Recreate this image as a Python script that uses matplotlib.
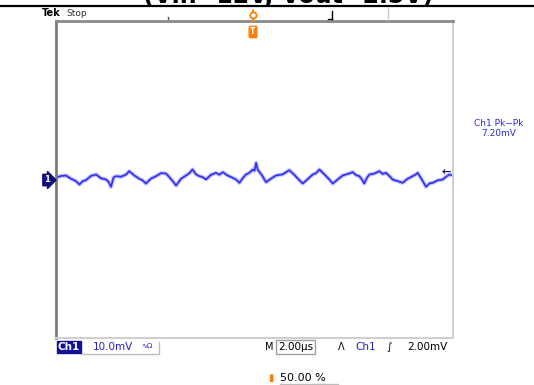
import numpy as np
import matplotlib
matplotlib.use('Agg')
from matplotlib import pyplot as plt
from matplotlib.lines import Line2D

# Ch1 ripple trace: time (us) and voltage (mV)
t_us = [0.00, 0.25, 0.50, 0.75, 1.01, 1.18, 1.35, 1.51, 1.76, 2.02, 2.27, 2.52,
        2.65, 2.77, 2.90, 3.02, 3.28, 3.53, 3.69, 3.95, 4.20, 4.36, 4.53, 4.78,
        5.04, 5.29, 5.54, 5.71, 5.88, 6.05, 6.30, 6.55, 6.72, 6.88, 7.05, 7.22,
        7.39, 7.56, 7.81, 8.06, 8.23, 8.40, 8.65, 8.90, 9.07, 9.24, 9.40, 9.57,
        9.74, 9.91, 10.00, 10.08, 10.16, 10.37, 10.58, 10.83, 11.08, 11.42, 11.75,
        12.00, 12.26, 12.43, 12.68, 12.93, 13.10, 13.27, 13.52, 13.77, 13.94,
        14.19, 14.44, 14.70, 14.95, 15.12, 15.28, 15.40, 15.53, 15.66, 15.79,
        16.04, 16.29, 16.46, 16.62, 16.79, 16.96, 17.21, 17.46, 17.72, 17.97,
        18.10, 18.22, 18.43, 18.64, 18.81, 18.98, 19.23, 19.48, 19.65, 19.82, 20.00]
v_mv = [0.42, 0.90, 1.01, 0.20, -0.42, -1.26, -0.40, -0.17, 0.90, 1.26, 0.30, 0.00,
        -0.60, -1.85, 0.50, 0.84, 0.70, 1.26, 2.10, 1.00, 0.17, -0.20, -1.01, 0.20,
        0.84, 1.60, 1.52, 0.60, -0.42, -1.52, 0.20, 1.01, 1.60, 2.53, 1.30, 0.84,
        0.60, 0.00, 1.20, 1.68, 1.20, 1.85, 1.00, 0.42, 0.00, -0.84, 0.30, 1.26,
        1.70, 2.50, 2.20, 4.20, 2.50, 1.10, -0.67, 0.20, 1.01, 1.30, 2.36,
        1.20, -0.17, -1.01, 0.10, 1.26, 1.60, 2.53, 1.30, 0.00, -1.01,
        0.00, 1.01, 1.40, 1.85, 1.10, 0.84, 0.10, -1.01, 0.40, 1.26,
        1.50, 2.10, 1.40, 1.68, 0.90, 0.00, -0.40, -0.84, 0.20, 0.84,
        1.20, 1.68, 0.00, -1.85, -1.00, -0.84, -0.20, 0.00, 0.70, 1.26, 1.00]

title = '(Vin=12V, Vout=2.5V)'
meas_label = 'Ch1 Pk\u2212Pk'
meas_value = '7.20mV'
ch_scale = '10.0mV'
time_scale = '2.00\u03bcs'
trig_level = '2.00mV'
trig_pos = '50.00 %'

W, H = 534, 385
def px(x, y):
    return x / W, 1 - y / H

fig = plt.figure(figsize=(W / 100, H / 100), dpi=100)
fig.patch.set_facecolor('white')

# screen area
x0, y0 = px(56, 338)
x1, y1 = px(453, 21)
ax = fig.add_axes([x0, y0, x1 - x0, y1 - y0])
ax.plot(t_us, v_mv, color='#5a5aff', lw=3.0, alpha=0.35, solid_joinstyle='round')
ax.plot(t_us, v_mv, color='#3434ee', lw=1.3, solid_joinstyle='round')
ax.set_xlim(0, 20)
ax.set_ylim(-40, 40)
ax.set_xticks([])
ax.set_yticks([])
ax.spines['left'].set_color('#7c7c7c')
ax.spines['left'].set_linewidth(2.0)
ax.spines['top'].set_color('#8a8a8a')
ax.spines['top'].set_linewidth(2.0)
ax.spines['right'].set_color('#cfcfcf')
ax.spines['right'].set_linewidth(1.5)
ax.spines['bottom'].set_color('#cfcfcf')
ax.spines['bottom'].set_linewidth(1.5)

# cut-off title and rule above the screenshot
fig.text(*px(288, 3), title, ha='center', va='baseline', fontsize=17,
         fontweight='bold', color='black')
fig.add_artist(Line2D([0, 1], [px(0, 6)[1]] * 2, color='black', lw=1.6))

# top status strip
fig.text(*px(42, 13), 'Tek', fontsize=7, fontweight='bold', va='center')
fig.text(*px(66, 13), 'Stop', fontsize=6.5, va='center', color='#333333')
fig.add_artist(Line2D([px(168, 0)[0]] * 2, [px(0, 17)[1], px(0, 19)[1]], color='#555555', lw=1))
fig.add_artist(Line2D([px(332, 0)[0]] * 2, [px(0, 11)[1], px(0, 19)[1]], color='black', lw=1))
fig.add_artist(Line2D([px(328, 0)[0], px(332, 0)[0]], [px(0, 19)[1]] * 2, color='black', lw=1))
fig.add_artist(Line2D([px(388, 0)[0]] * 2, [px(0, 8)[1], px(0, 20)[1]], color='#c8c8c8', lw=1))
fig.add_artist(Line2D([px(253, 0)[0]] * 2, [px(0, 10)[1], px(0, 22)[1]], color='#ff7f00', lw=1.2))
fig.add_artist(Line2D([px(253, 0)[0]], [px(0, 15)[1]], marker='o', ms=4.5, mfc='white',
                      mec='#ff7f00', mew=1.3))
fig.text(*px(253, 32), 'T', fontsize=5.5, fontweight='bold', color='white', ha='center',
         va='center', bbox=dict(boxstyle='round,pad=0.15', fc='#ff7f00', ec='#ff7f00'))

# channel ground marker and trace end arrow
fig.text(*px(47, 180), '1', fontsize=6, fontweight='bold', color='white', ha='center',
         va='center', bbox=dict(boxstyle='rarrow,pad=0.15', fc='#10107a', ec='#10107a'))
fig.text(*px(446, 172), '\u2190', fontsize=8, fontweight='bold', color='#15155a',
         ha='center', va='center')

# measurement readout
fig.text(*px(499, 124), meas_label, fontsize=6.5, color='#2a2ad8', ha='center', va='center')
fig.text(*px(499, 133), meas_value, fontsize=6.5, color='#2a2ad8', ha='center', va='center')

# bottom readouts
fig.text(*px(69, 347), 'Ch1', fontsize=7.5, fontweight='bold', color='white', ha='center',
         va='center', bbox=dict(boxstyle='square,pad=0.12', fc='#10109a', ec='#10109a'))
fig.text(*px(93, 347), ch_scale, fontsize=7.5, color='#2020c8', va='center')
fig.text(*px(141, 346), '\u223f\u03a9', fontsize=5, color='#2020c8', va='center')
fig.add_artist(Line2D([px(82, 0)[0], px(159, 0)[0], px(159, 0)[0]],
                      [px(0, 354)[1], px(0, 354)[1], px(0, 342)[1]], color='#bdbdbd', lw=1))

fig.text(*px(265, 347), 'M', fontsize=7, color='black', va='center')
fig.text(*px(278, 347), time_scale, fontsize=7.5, color='black', va='center',
         bbox=dict(boxstyle='square,pad=0.15', fc='white', ec='#a0a0a0', lw=1))
fig.text(*px(338, 347), '\u039b', fontsize=7, color='black', va='center')
fig.text(*px(355, 347), 'Ch1', fontsize=7.5, color='#2020c8', va='center')
fig.text(*px(386, 347), '\u222b', fontsize=7.5, color='black', va='center')
fig.text(*px(407, 347), trig_level, fontsize=7.5, color='black', va='center')

fig.text(*px(268, 378), '\u25ae', fontsize=7, color='#ff7f00', va='center')
fig.text(*px(280, 378), trig_pos, fontsize=8, color='black', va='center')
fig.add_artist(Line2D([px(280, 0)[0], px(338, 0)[0]], [px(0, 384)[1]] * 2, color='#bdbdbd', lw=1))

fig.savefig('out.png', dpi=100)
